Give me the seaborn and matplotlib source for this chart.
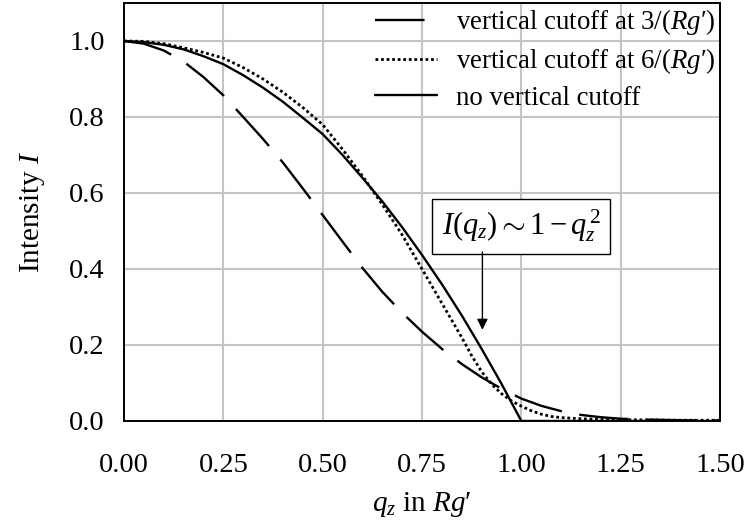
import matplotlib
matplotlib.use("Agg")
import matplotlib.pyplot as plt
import seaborn as sns
import pandas as pd

# ---- data ----
q_solid = [0.0, 0.05, 0.10, 0.15, 0.20, 0.25, 0.30, 0.35, 0.40, 0.45, 0.50,
           0.55, 0.60, 0.65, 0.70, 0.75, 0.80, 0.85, 0.90, 0.95, 1.00, 1.25, 1.50]
I_solid = [1.00, 0.997, 0.99, 0.978, 0.96, 0.939, 0.91, 0.877, 0.84, 0.798, 0.755,
           0.70, 0.64, 0.578, 0.51, 0.437, 0.36, 0.278, 0.19, 0.098, 0.0, 0.0, 0.0]

q_cut3 = [0.0, 0.05, 0.10, 0.15, 0.20, 0.25, 0.30, 0.35, 0.40, 0.45, 0.50,
          0.55, 0.60, 0.65, 0.70, 0.75, 0.80, 0.85, 0.90, 0.95, 1.00, 1.05,
          1.10, 1.15, 1.20, 1.25, 1.30, 1.40, 1.50]
I_cut3 = [1.00, 0.993, 0.975, 0.946, 0.905, 0.857, 0.80, 0.742, 0.68, 0.612,
          0.542, 0.472, 0.403, 0.34, 0.285, 0.235, 0.19, 0.15, 0.115, 0.085,
          0.059, 0.040, 0.026, 0.016, 0.010, 0.006, 0.004, 0.002, 0.001]

q_cut6 = [0.0, 0.05, 0.10, 0.15, 0.20, 0.25, 0.30, 0.35, 0.40, 0.45, 0.50,
          0.55, 0.60, 0.65, 0.70, 0.75, 0.80, 0.85, 0.875, 0.90, 0.925, 0.95,
          0.975, 1.00, 1.025, 1.05, 1.075, 1.10, 1.15, 1.20, 1.30, 1.40, 1.50]
I_cut6 = [1.00, 0.999, 0.993, 0.982, 0.97, 0.955, 0.93, 0.90, 0.865, 0.825,
          0.78, 0.715, 0.645, 0.57, 0.49, 0.40, 0.31, 0.22, 0.172, 0.13, 0.097,
          0.072, 0.053, 0.039, 0.027, 0.018, 0.012, 0.009, 0.006, 0.004, 0.003,
          0.002, 0.002]

labels = ["vertical cutoff at 3/($Rg$′)",
          "vertical cutoff at 6/($Rg$′)",
          "no vertical cutoff"]
x_ticks = [0.00, 0.25, 0.50, 0.75, 1.00, 1.25, 1.50]
y_ticks = [0.0, 0.2, 0.4, 0.6, 0.8, 1.0]

df3 = pd.DataFrame({"q": q_cut3, "I": I_cut3})
df6 = pd.DataFrame({"q": q_cut6, "I": I_cut6})
dfs = pd.DataFrame({"q": q_solid, "I": I_solid})

# ---- style ----
sns.set_theme(style="whitegrid")
plt.rcParams["font.family"] = ["Liberation Serif", "DejaVu Serif"]
plt.rcParams["mathtext.fontset"] = "custom"
plt.rcParams["mathtext.rm"] = "Liberation Serif"
plt.rcParams["mathtext.it"] = "Liberation Serif:italic"
plt.rcParams["mathtext.bf"] = "Liberation Serif:bold"

fig = plt.figure(figsize=(7.45, 5.31), dpi=100)
ax = fig.add_axes([124 / 745, 1 - 421 / 531, (720 - 124) / 745, (421 - 3) / 531])
ax.set_facecolor("white")

lw = 1.7
sns.lineplot(data=df3, x="q", y="I", ax=ax, color="black", linewidth=lw,
             linestyle=(0, (21, 7.5)), label=labels[0])
sns.lineplot(data=df6, x="q", y="I", ax=ax, color="black", linewidth=2.0,
             linestyle=(0, (1.0, 1.0)), label=labels[1])
sns.lineplot(data=dfs, x="q", y="I", ax=ax, color="black", linewidth=lw,
             linestyle="-", label=labels[2])

ax.set_xlim(0, 1.5)
ax.set_ylim(0, 1.1)
ax.set_xticks(x_ticks)
ax.set_xticklabels([f"{v:.2f}" for v in x_ticks])
ax.set_yticks(y_ticks)
ax.set_yticklabels([f"{v:.1f}" for v in y_ticks])
ax.grid(True, color="#c4c4c4", linewidth=1.5)
for s in ax.spines.values():
    s.set_visible(True)
    s.set_color("black")
    s.set_linewidth(1.4)
ax.tick_params(axis="both", which="major", direction="out", length=5,
               width=1.0, color="black", labelsize=20.5, labelcolor="black")
ax.tick_params(axis="x", pad=18)
ax.tick_params(axis="y", pad=9)

ax.set_xlabel("$q_z$ in $Rg$′", fontsize=21, labelpad=9, color="black")
ax.set_ylabel("Intensity $I$", fontsize=21, labelpad=16, color="black")

leg = ax.legend(loc="upper right", frameon=False, fontsize=19.4,
                handlelength=2.3, handletextpad=0.7, borderaxespad=0.0,
                labelspacing=0.35, borderpad=0.15)
for t in leg.get_texts():
    t.set_color("black")

# annotation box and arrow
ax.text(1.0, 0.513, r"$I(q_z) \sim 1 - q_z^{\,2}$", fontsize=22,
        ha="center", va="center", color="black",
        bbox=dict(boxstyle="square,pad=0.3", fc="white", ec="black", lw=1.0))
ax.annotate("", xy=(0.902, 0.24), xytext=(0.902, 0.445),
            arrowprops=dict(arrowstyle="-|>", color="black", lw=1.0,
                            mutation_scale=16, shrinkA=0, shrinkB=0))

fig.savefig("out.png", dpi=100)
